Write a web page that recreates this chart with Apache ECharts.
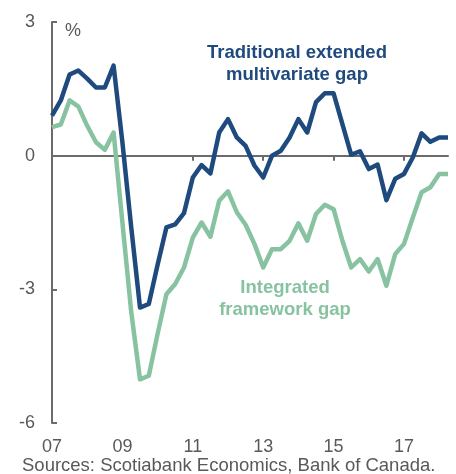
<!DOCTYPE html>
<html>
<head>
<meta charset="utf-8">
<script src="https://cdn.jsdelivr.net/npm/echarts@6/dist/echarts.min.js"></script>
<style>
  html, body { margin: 0; padding: 0; background: #ffffff; }
  #chart { width: 456px; height: 474px; }
</style>
</head>
<body>
<div id="chart"></div>
<script>
// quarters 2007Q1 .. 2018Q2
const quarters = []
for (let y = 2007; y <= 2018; y++) {
  for (let q = 1; q <= 4; q++) quarters.push(y + 'Q' + q)
}
quarters.length = 46

// one label every 8 quarters
const tickLabels = ['07', '09', '11', '13', '15', '17']

// Traditional extended multivariate gap (%)
const traditionalGap = [
  0.90, 1.24, 1.82, 1.91, 1.73, 1.53, 1.53, 2.02,
  0.30, -1.60, -3.41, -3.33, -2.45, -1.61, -1.54, -1.29,
  -0.49, -0.21, -0.40, 0.52, 0.82, 0.41, 0.22, -0.22,
  -0.49, 0.00, 0.11, 0.41, 0.82, 0.52, 1.20, 1.40,
  1.40, 0.71, 0.02, 0.10, -0.30, -0.20, -1.00, -0.52,
  -0.41, -0.04, 0.50, 0.31, 0.41, 0.41
]

// Integrated framework gap (%)
const integratedGap = [
  0.64, 0.70, 1.24, 1.10, 0.67, 0.30, 0.13, 0.52,
  -1.50, -3.50, -5.02, -4.94, -4.00, -3.11, -2.88, -2.51,
  -1.84, -1.50, -1.82, -1.01, -0.80, -1.27, -1.55, -1.98,
  -2.51, -2.10, -2.10, -1.91, -1.52, -1.91, -1.31, -1.10,
  -1.20, -1.91, -2.51, -2.32, -2.60, -2.32, -2.92, -2.21,
  -1.98, -1.39, -0.82, -0.71, -0.41, -0.41
]

const FONT = '"Liberation Sans", Arial, sans-serif'
const BLUE = '#1f4a7e'
const GREEN = '#87c3a0'
const AXIS = '#6b6b6b'
const TEXT = '#595959'

const chart = echarts.init(document.getElementById('chart'))

const everyTwoYears = (idx) => idx % 8 === 0

const option = {
  animation: false,
  grid: { left: 52, right: 8, top: 22, bottom: 51 },
  xAxis: [
    {
      // zero line with its ticks
      type: 'category',
      data: quarters,
      boundaryGap: false,
      axisLine: { onZero: true, lineStyle: { color: AXIS, width: 2 } },
      axisTick: { show: true, interval: everyTwoYears, length: 5, lineStyle: { color: AXIS, width: 2 } },
      axisLabel: { show: false },
      splitLine: { show: false }
    },
    {
      // labels at the bottom
      type: 'category',
      data: quarters,
      position: 'bottom',
      boundaryGap: false,
      axisLine: { show: false, onZero: false },
      axisTick: { show: false },
      axisLabel: {
        interval: everyTwoYears,
        formatter: (val, idx) => tickLabels[idx / 8],
        color: TEXT,
        fontSize: 18,
        fontFamily: FONT,
        margin: 15
      },
      splitLine: { show: false }
    }
  ],
  yAxis: {
    type: 'value',
    min: -6,
    max: 3,
    interval: 3,
    axisLine: { show: true, lineStyle: { color: AXIS, width: 2 } },
    axisTick: { show: true, inside: true, length: 5, lineStyle: { color: AXIS, width: 2 } },
    axisLabel: { color: TEXT, fontSize: 18, fontFamily: FONT, margin: 17 },
    splitLine: { show: false }
  },
  graphic: [
    {
      type: 'text', left: 65, top: 22,
      style: { text: '%', fill: TEXT, font: '18px ' + FONT }
    },
    {
      type: 'text', x: 297, y: 64,
      style: {
        text: 'Traditional extended\nmultivariate gap',
        fill: BLUE, font: 'bold 18.5px ' + FONT,
        align: 'center', verticalAlign: 'middle', lineHeight: 22
      }
    },
    {
      type: 'text', x: 285, y: 299,
      style: {
        text: 'Integrated\nframework gap',
        fill: GREEN, font: 'bold 18.5px ' + FONT,
        align: 'center', verticalAlign: 'middle', lineHeight: 22
      }
    },
    {
      type: 'text', left: 22, top: 456,
      style: { text: 'Sources: Scotiabank Economics, Bank of Canada.', fill: TEXT, font: '18.5px ' + FONT }
    }
  ],
  series: [
    {
      name: 'Integrated framework gap',
      type: 'line',
      data: integratedGap,
      symbol: 'none',
      lineStyle: { color: GREEN, width: 4.5, join: 'round' }
    },
    {
      name: 'Traditional extended multivariate gap',
      type: 'line',
      data: traditionalGap,
      symbol: 'none',
      lineStyle: { color: BLUE, width: 4.5, join: 'round' }
    }
  ]
}

chart.setOption(option)
</script>
</body>
</html>
